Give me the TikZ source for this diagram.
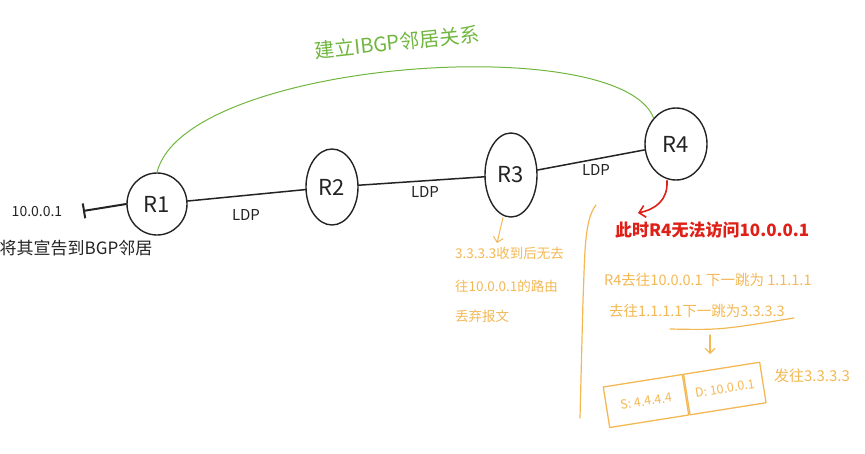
\documentclass[tikz,border=0pt]{standalone}
\usepackage{fontspec}
\setmainfont{Noto Sans CJK SC}
\usetikzlibrary{shapes.geometric,arrows.meta,calc}
\definecolor{Gline}{RGB}{112,182,62}
\definecolor{Oline}{RGB}{243,184,84}
\definecolor{Rline}{RGB}{222,32,22}
\definecolor{Kline}{RGB}{35,35,35}

\begin{document}
\begin{tikzpicture}[x=1pt,y=-1pt,line cap=round,line join=round,
  router/.style={ellipse,draw=Kline,line width=1.4pt,inner sep=0pt,text=Kline,font=\fontsize{22}{24}\selectfont},
  link/.style={draw=Kline,line width=1.5pt},
  ldp/.style={text=Kline,font=\fontsize{15}{16}\selectfont},
  note/.style={text=Oline,anchor=west,inner sep=0pt,font=\fontsize{13.5}{15}\selectfont},
  hop/.style={text=Oline,anchor=west,inner sep=0pt,font=\fontsize{14.5}{15}\selectfont},
  cell/.style={draw=Oline,line width=1.3pt,rectangle,rotate=9,minimum height=41pt,text=Oline,font=\fontsize{12.5}{13}\selectfont},
  ostroke/.style={draw=Oline,line width=1.2pt}]
\path[use as bounding box] (0,0) rectangle (865,453);
% routers
\node[router,minimum width=60pt,minimum height=62pt] (r1) at (157,204) {R1};
\node[router,minimum width=52pt,minimum height=76pt] (r2) at (332,187) {R2};
\node[router,minimum width=52pt,minimum height=84pt] (r3) at (511,175) {R3};
\node[router,minimum width=62pt,minimum height=72pt] (r4) at (676,144) {R4};
% LDP links
\draw[link] (r1) -- (r2);
\draw[link] (r2) -- (r3);
\draw[link] (r3) -- (r4);
\node[ldp] (ldp12) at (246,215) {LDP};
\node[ldp] (ldp23) at (425,192) {LDP};
\node[ldp] (ldp34) at (596,170) {LDP};
% prefix on R1
\node[text=Kline,font=\fontsize{14}{15}\selectfont] (pfx) at (37,212) {10.0.0.1};
\coordinate (stub) at (83,211);
\draw[Kline,line width=2pt,{Bar[width=15pt]}-] (stub) -- (r1.west);
\node[text=Kline,font=\fontsize{17}{18}\selectfont] (adv) at (76,248) {将其宣告到BGP邻居};
% iBGP session
\draw[Gline,line width=1pt] (r1.north) .. controls (185,60) and (620,30) .. (r4.north west);
\node[text=Gline,rotate=6,font=\fontsize{20}{22}\selectfont] (ibgp) at (397,42) {建立IBGP邻居关系};
% R3 drops
\coordinate (drop) at (497,243);
\draw[Oline,line width=1pt,-{Straight Barb[length=5pt]}] ([xshift=-8pt]r3.south) -- (drop);
\node[note] (drop1) at (455,253) {3.3.3.3收到后无去};
\node[note] (drop2) at (455,286) {往10.0.0.1的路由};
\node[note] (drop3) at (455,316) {丢弃报文};
% R4 side
\coordinate (warnpt) at (638,213);
\draw[Rline,line width=1.6pt,-{Straight Barb[length=6pt]}] ([xshift=-9pt]r4.south) .. controls (668,200) and (656,209) .. (warnpt);
\node[text=Rline,anchor=west,inner sep=0pt,font=\bfseries\fontsize{17}{18}\selectfont] (warn) at (615,230) {此时R4无法访问10.0.0.1};
\draw[ostroke] (596,205) .. controls (584,220) and (585,255) .. (583,300) -- (580,418);
\node[hop] (hop1) at (604,280) {R4去往10.0.0.1 下一跳为 1.1.1.1};
\node[hop] (hop2) at (609,311) {去往1.1.1.1下一跳为3.3.3.3};
\coordinate (ul1) at (670,329);
\coordinate (ul2) at (794,318);
\draw[ostroke] (ul1) .. controls (720,330) .. (ul2);
% packet
\coordinate (dn1) at (710,335);
\coordinate (dn2) at (710,354);
\draw[ostroke,-{Straight Barb[length=5pt]}] (dn1) -- (dn2);
\node[cell,minimum width=80pt] (src) at (646,401) {S: 4.4.4.4};
\node[cell,minimum width=77pt,anchor=west] (dst) at (src.east) {D: 10.0.0.1};
\node[text=Oline,font=\fontsize{15}{16}\selectfont] (send) at (812,376) {发往3.3.3.3};
\end{tikzpicture}
\end{document}
